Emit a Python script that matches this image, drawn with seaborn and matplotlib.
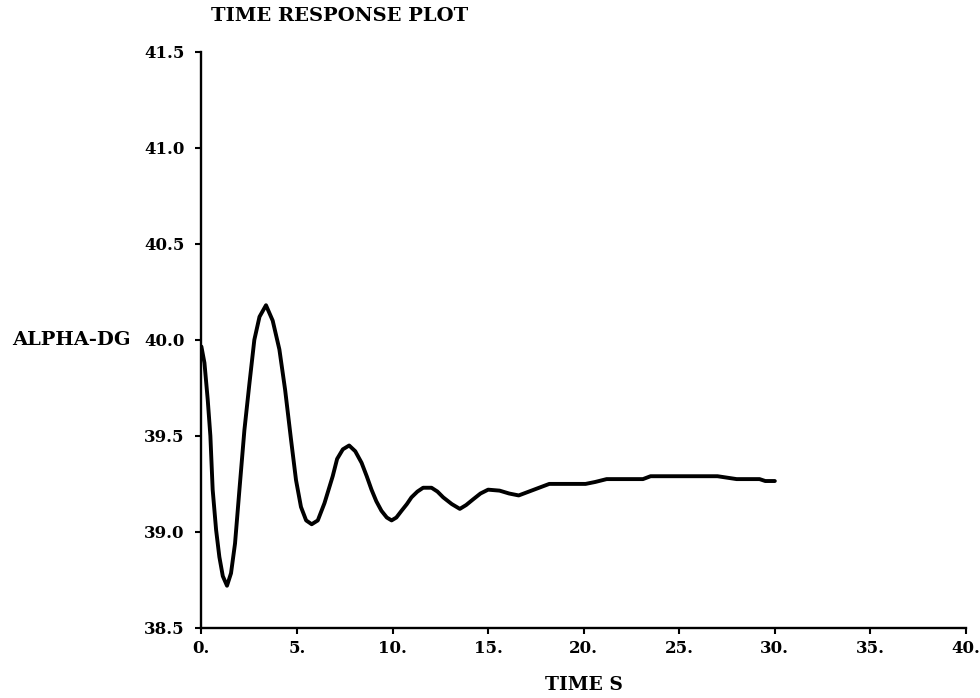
import matplotlib
matplotlib.use("Agg")
import matplotlib.pyplot as plt
import seaborn as sns
import pandas as pd

time_s = [0.0, 0.16, 0.33, 0.47, 0.59, 0.77, 0.94, 1.12, 1.34, 1.55, 1.76, 1.99, 2.25,
          2.51, 2.77, 3.04, 3.38, 3.73, 4.08, 4.38, 4.69, 4.95, 5.21, 5.48, 5.77, 6.09,
          6.44, 6.87, 7.10, 7.40, 7.73, 8.05, 8.38, 8.65, 8.90, 9.15, 9.42, 9.70, 9.95,
          10.20, 10.47, 10.75, 10.99, 11.30, 11.60, 12.04, 12.35, 12.65, 13.10, 13.52,
          13.85, 14.22, 14.60, 15.0, 15.6, 16.1, 16.6, 17.4, 18.2, 20.1, 20.6, 21.2,
          23.1, 23.5, 27.0, 28.0, 29.2, 29.5, 30.0]
alpha_dg = [39.965, 39.88, 39.69, 39.50, 39.22, 39.01, 38.87, 38.77, 38.72, 38.785, 38.94,
            39.22, 39.53, 39.77, 40.00, 40.12, 40.18, 40.10, 39.95, 39.74, 39.48, 39.27,
            39.13, 39.06, 39.04, 39.06, 39.15, 39.29, 39.38, 39.43, 39.45, 39.42, 39.36,
            39.29, 39.22, 39.16, 39.11, 39.075, 39.06, 39.075, 39.11, 39.145, 39.18,
            39.21, 39.23, 39.23, 39.21, 39.18, 39.145, 39.12, 39.14, 39.17, 39.20,
            39.22, 39.215, 39.20, 39.19, 39.22, 39.25, 39.25, 39.26, 39.275, 39.275,
            39.29, 39.29, 39.275, 39.275, 39.265, 39.265]

x_ticks = [0, 5, 10, 15, 20, 25, 30, 35, 40]
x_tick_labels = ["0.", "5.", "10.", "15.", "20.", "25.", "30.", "35.", "40."]
y_ticks = [38.5, 39.0, 39.5, 40.0, 40.5, 41.0, 41.5]
y_tick_labels = ["38.5", "39.0", "39.5", "40.0", "40.5", "41.0", "41.5"]

df = pd.DataFrame({"TIME S": time_s, "ALPHA-DG": alpha_dg})

sns.set_theme(style="ticks")
plt.rcParams["font.family"] = ["DejaVu Serif"]
plt.rcParams["font.weight"] = "bold"

fig = plt.figure(figsize=(9.8, 6.98), dpi=100)
ax = fig.add_axes([0.2055, 0.1003, 0.7802, 0.8257])

sns.lineplot(data=df, x="TIME S", y="ALPHA-DG", ax=ax, color="black",
             linewidth=2.8, sort=False)
ax.lines[0].set_solid_joinstyle("round")
ax.lines[0].set_solid_capstyle("round")

ax.set_xlim(0, 40)
ax.set_ylim(38.5, 41.5)
ax.set_xticks(x_ticks)
ax.set_xticklabels(x_tick_labels, fontsize=12, fontweight="bold")
ax.set_yticks(y_ticks)
ax.set_yticklabels(y_tick_labels, fontsize=12, fontweight="bold")
ax.tick_params(axis="both", direction="out", length=4, width=1.5, color="black",
               labelcolor="black")
ax.tick_params(axis="y", pad=8)
ax.tick_params(axis="x", pad=5)

for side in ["top", "right"]:
    ax.spines[side].set_visible(False)
for side in ["left", "bottom"]:
    ax.spines[side].set_linewidth(1.7)
    ax.spines[side].set_color("black")

ax.set_xlabel("TIME S", fontsize=13.5, fontweight="bold", color="black", labelpad=13)
ax.set_ylabel("ALPHA-DG", fontsize=14, fontweight="bold", color="black",
              rotation=0, ha="left", va="center")
ax.yaxis.set_label_coords(-0.247, 0.5)

ax.set_title("TIME RESPONSE PLOT", fontsize=14, fontweight="bold", color="black",
             loc="left", x=0.012, y=1.054, pad=0)

fig.savefig("out.png", dpi=100, facecolor="white")
